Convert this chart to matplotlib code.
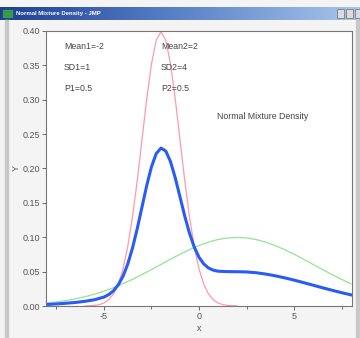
import numpy as np
import matplotlib
matplotlib.use("Agg")
import matplotlib.pyplot as plt
from matplotlib.patches import Rectangle

plt.rcParams['font.family'] = ['Liberation Sans', 'DejaVu Sans']
plt.rcParams['axes.unicode_minus'] = False

# values
x_red = [-6, -5.75, -5.5, -5.25, -5, -4.75, -4.5, -4.25, -4, -3.75, -3.5, -3.25,
         -3, -2.75, -2.5, -2.25, -2, -1.75, -1.5, -1.25, -1, -0.75, -0.5, -0.25,
         0, 0.25, 0.5, 0.75, 1, 1.25, 1.5, 1.75, 2]
y_red = [0.0001, 0.0004, 0.0009, 0.0020, 0.0044, 0.0091, 0.0175, 0.0317, 0.0540,
         0.0863, 0.1295, 0.1826, 0.2420, 0.3011, 0.3521, 0.3867, 0.3989, 0.3867,
         0.3521, 0.3011, 0.2420, 0.1826, 0.1295, 0.0863, 0.0540, 0.0317, 0.0175,
         0.0091, 0.0044, 0.0020, 0.0009, 0.0004, 0.0001]

x_green = [-8, -7.5, -7, -6.5, -6, -5.5, -5, -4.5, -4, -3.5, -3, -2.5, -2, -1.5,
           -1, -0.5, 0, 0.5, 1, 1.5, 2, 2.5, 3, 3.5, 4, 4.5, 5, 5.5, 6, 6.5, 7,
           7.5, 8]
y_green = [0.0044, 0.0059, 0.0079, 0.0104, 0.0135, 0.0172, 0.0216, 0.0266, 0.0324,
           0.0388, 0.0457, 0.0530, 0.0605, 0.0680, 0.0753, 0.0820, 0.0880, 0.0930,
           0.0967, 0.0990, 0.0997, 0.0990, 0.0967, 0.0930, 0.0880, 0.0820, 0.0753,
           0.0680, 0.0605, 0.0530, 0.0457, 0.0388, 0.0324]

x_blue = [-8, -7.5, -7, -6.5, -6, -5.5, -5, -4.75, -4.5, -4.25, -4, -3.75, -3.5,
          -3.25, -3, -2.75, -2.5, -2.25, -2, -1.75, -1.5, -1.25, -1, -0.75, -0.5,
          -0.25, 0, 0.25, 0.5, 0.75, 1, 1.5, 2, 2.5, 3, 3.5, 4, 4.5, 5, 5.5, 6,
          6.5, 7, 7.5, 8]
y_blue = [0.0022, 0.0030, 0.0040, 0.0052, 0.0068, 0.0091, 0.0130, 0.0166, 0.0221,
          0.0306, 0.0432, 0.0609, 0.0842, 0.1124, 0.1439, 0.1752, 0.2026, 0.2217,
          0.2297, 0.2255, 0.2101, 0.1864, 0.1587, 0.1307, 0.1058, 0.0857, 0.0710,
          0.0612, 0.0553, 0.0521, 0.0506, 0.0500, 0.0499, 0.0495, 0.0484, 0.0465,
          0.0440, 0.0410, 0.0377, 0.0340, 0.0303, 0.0265, 0.0229, 0.0194, 0.0162]

labels1 = ["Mean1=-2", "SD1=1", "P1=0.5"]
labels2 = ["Mean2=2", "SD2=4", "P2=0.5"]

fig = plt.figure(figsize=(3.6, 3.38), dpi=100)
fig.patch.set_facecolor("#f4f4f4")

# window chrome: title bar and borders
bar = fig.add_axes([0, (338 - 20) / 338, 1, 13 / 338])
bar.imshow(np.linspace(0, 1, 256).reshape(1, -1), aspect="auto",
           cmap=matplotlib.colors.LinearSegmentedColormap.from_list(
               "tb", ["#1c3f94", "#5b82c8", "#a9c6ec"]))
bar.axis("off")
bar.text(0.045, 0.5, "Normal Mixture Density - JMP", transform=bar.transAxes,
         color="white", fontsize=4.3, fontweight="bold", va="center")
bar.add_patch(Rectangle((0.008, 0.2), 0.025, 0.6, transform=bar.transAxes,
                        color="#3a9a4a"))
for bx in [0.935, 0.96, 0.985]:
    bar.add_patch(Rectangle((bx, 0.15), 0.02, 0.7, transform=bar.transAxes,
                            facecolor="#dcdcdc", edgecolor="#555555", lw=0.4))
fig.add_artist(Rectangle((5 / 360, 0), 3 / 360, (338 - 20) / 338,
                         transform=fig.transFigure, color="#c8c8c8"))
fig.add_artist(Rectangle((356 / 360, 0), 4 / 360, (338 - 20) / 338,
                         transform=fig.transFigure, color="#c8c8c8"))

ax = fig.add_axes([46 / 360, 32 / 338, 306 / 360, 275 / 338])
ax.plot(x_green, y_green, color="#95e295", lw=0.9)
ax.plot(x_red, y_red, color="#ff9aa8", lw=0.9)
ax.plot(x_blue, y_blue, color="#2a5cf5", lw=2.2)

ax.set_xlim(-8.05, 8.05)
ax.set_ylim(0, 0.40)
ax.set_xticks([-5, 0, 5])
ax.set_xticks([-7.5, -2.5, 2.5, 7.5], minor=True)
ax.set_yticks(np.arange(0, 0.41, 0.05))
ax.yaxis.set_major_formatter(matplotlib.ticker.FormatStrFormatter("%.2f"))
ax.tick_params(labelsize=6.5, colors="#555555", length=3, width=0.6, pad=1.5)
ax.tick_params(which="minor", length=2, width=0.6, colors="#555555")
for s in ax.spines.values():
    s.set_color("#777777")
    s.set_linewidth(0.8)
ax.set_xlabel("x", fontsize=6.5, color="#555555", labelpad=2)
ax.set_ylabel("Y", fontsize=6.5, color="#555555", labelpad=1)

for i, t in enumerate(labels1):
    ax.text(-7.1, 0.377 - i * 0.03, t, fontsize=6.3, color="#444444",
            va="center")
for i, t in enumerate(labels2):
    ax.text(-2.0, 0.377 - i * 0.03, t, fontsize=6.3, color="#444444",
            va="center")
ax.text(0.95, 0.275, "Normal Mixture Density", fontsize=6.3, color="#444444",
        va="center")

fig.savefig("out.png", dpi=100, facecolor=fig.get_facecolor())
